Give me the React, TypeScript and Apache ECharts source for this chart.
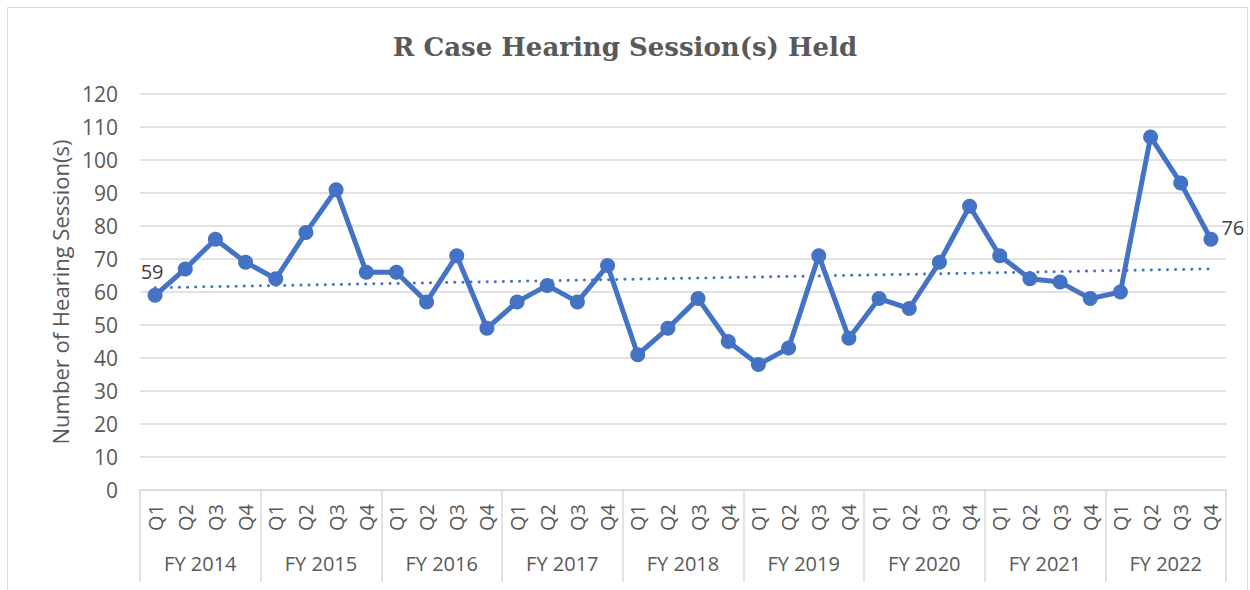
import React, { useEffect, useRef } from "react";
import * as echarts from "echarts";

const years = ["FY 2014", "FY 2015", "FY 2016", "FY 2017", "FY 2018", "FY 2019", "FY 2020", "FY 2021", "FY 2022"];
const quarters = ["Q1", "Q2", "Q3", "Q4"];
const sessions = [
  59, 67, 76, 69,
  64, 78, 91, 66,
  66, 57, 71, 49,
  57, 62, 57, 68,
  41, 49, 58, 45,
  38, 43, 71, 46,
  58, 55, 69, 86,
  71, 64, 63, 58,
  60, 107, 93, 76,
];
const trendEnds = [61.3, 67.0];

const BLUE = "#4472C4";
const GREY = "#595959";
const FONT = "'Open Sans', 'Noto Sans', sans-serif";

export default function App() {
  const ref = useRef<HTMLDivElement>(null);
  useEffect(() => {
    if (!ref.current) return;
    const chart = echarts.init(ref.current, null, { renderer: "svg" });
    const qCats: string[] = [];
    years.forEach(() => quarters.forEach((q) => qCats.push(q)));
    const last = sessions.length - 1;
    chart.setOption({
      animation: false,
      backgroundColor: "#fff",
      title: {
        text: "R Case Hearing Session(s) Held",
        left: "center",
        top: 29,
        textStyle: { fontFamily: "'DejaVu Serif', serif", fontWeight: "bold", fontSize: 26, color: GREY },
      },
      graphic: [
        {
          type: "rect",
          shape: { x: 7.5, y: 7.5, width: 1240, height: 600 },
          style: { fill: "none", stroke: "#d9d9d9", lineWidth: 1 },
          silent: true,
        },
      ],
      grid: { left: 140, right: 24, top: 94, bottom: 100 },
      xAxis: [
        {
          type: "category",
          data: qCats,
          position: "bottom",
          axisLine: { show: true, lineStyle: { color: "#d9d9d9", width: 1.5 } },
          axisTick: { show: false },
          axisLabel: { rotate: 90, margin: 14, fontSize: 20, color: GREY, fontFamily: FONT, interval: 0 },
        },
        {
          type: "category",
          data: years,
          position: "bottom",
          axisLine: { show: false },
          axisTick: { show: true, length: 92, lineStyle: { color: "#d9d9d9", width: 1.5 } },
          axisLabel: { margin: 63, fontSize: 20, color: GREY, fontFamily: FONT, interval: 0 },
        },
      ],
      yAxis: {
        type: "value",
        min: 0,
        max: 120,
        interval: 10,
        name: "Number of Hearing Session(s)",
        nameLocation: "middle",
        nameGap: 66,
        nameTextStyle: { fontSize: 22, color: GREY, fontFamily: FONT },
        axisLine: { show: false },
        axisTick: { show: false },
        axisLabel: { fontSize: 21, color: GREY, fontFamily: FONT, margin: 22 },
        splitLine: { lineStyle: { color: "#d9d9d9", width: 1.5 } },
      },
      series: [
        {
          type: "line",
          xAxisIndex: 0,
          data: sessions.map((v, i) => {
            if (i === 0)
              return { value: v, label: { show: true, position: "top", offset: [-3, -1] } };
            if (i === last)
              return { value: v, label: { show: true, position: "right", offset: [-2, -12] } };
            return v;
          }),
          symbol: "circle",
          symbolSize: 15,
          lineStyle: { color: BLUE, width: 5 },
          itemStyle: { color: BLUE },
          label: { show: false, fontSize: 20, color: "#404040", fontFamily: FONT },
          markLine: {
            silent: true,
            symbol: "none",
            label: { show: false },
            lineStyle: { color: BLUE, width: 3, type: [0.1, 8], cap: "round" },
            data: [[{ coord: [0, trendEnds[0]] }, { coord: [last, trendEnds[1]] }]],
          },
        },
      ],
    });
    return () => chart.dispose();
  }, []);
  return <div ref={ref} style={{ position: "fixed", left: 0, top: 0, width: 1250, height: 590 }} />;
}
